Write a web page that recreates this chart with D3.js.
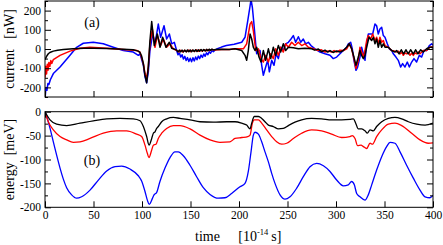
<!DOCTYPE html>
<html>
<head>
<meta charset="utf-8">
<script src="https://cdn.jsdelivr.net/npm/d3@7"></script>
<style>
  body { margin: 0; background: #fff; }
  svg { display: block; }
  text { font-family: "Liberation Serif", "Times New Roman", serif; }
</style>
</head>
<body>
<div id="chart"></div>
<script>
// time in 1e-14 s, current in nW, energy in meV
const xTicks = [0, 50, 100, 150, 200, 250, 300, 350, 400];
const curTicks = [-200, -100, 0, 100, 200];
const curMinor = [-250, -150, -50, 50, 150, 250];
const enTicks = [-200, -150, -100, -50, 0];
const enMinor = [-175, -125, -75, -25];

const currBlack = [
  [0, -55], [1, -45], [2, -35], [3.4, -25], [5, -18], [8.6, -11], [13, -6], [18.9, -3], [29, 1], [40, 4],
  [50, 4], [63.6, 2], [80.7, -1], [91, -4], [96.2, -11], [97.9, -18], [99.5, -35], [101.4, -76], [103, -135],
  [104.8, -176], [106.5, -93], [108.2, 44], [110, 143], [112.7, 18], [115.8, 78], [118.6, 9], [121.3, 61],
  [124.7, 9], [128.2, 35], [130.6, 4], [132.3, 1], [135.7, -6], [137.1, -15], [138.5, -6], [139.9, -15],
  [141.3, -6], [142.7, -15], [144.1, -6], [145.5, -15], [146.9, -5], [148.3, -14], [149.7, -5], [151.1, -14],
  [152.5, -5], [153.9, -13], [155.3, -4], [156.7, -13], [158.1, -4], [159.5, -12], [160.9, -3], [162.3, -11],
  [163.7, -3], [165.1, -10], [166.5, -2], [167.9, -9], [169.3, -1], [170.7, -7], [172.1, -1], [173.5, -5],
  [176, -3], [182, -1], [190, -2], [195.9, 1], [202.8, -8], [206.2, -33], [207.9, -59], [209.6, -8],
  [211.4, 78], [213.1, 52], [214.8, 9], [216.5, -8], [218.2, 9], [220.6, -42], [222.7, -68], [225.1, -8],
  [227.5, -59], [230.3, 1], [232.7, -50], [235.4, 9], [237.8, -33], [240.6, 18], [243, -16], [245.7, 27],
  [248.1, -8], [250.9, 9], [256, 6], [261.2, 1], [268, 4], [274.9, 1], [278, -6], [281.8, 0], [285, -14],
  [288.7, -6], [291.5, -16], [293.8, -8], [297, -18], [300.7, -10], [304, -16], [307.5, -8], [311, 9],
  [313.7, 27], [316.1, 1], [318.5, -42], [320.6, -85], [323, -42], [324.7, -8], [326.4, -33], [328.2, -50],
  [329.9, -33], [331.6, 9], [334, 61], [336.7, 44], [338.5, 61], [340.2, 27], [341.9, 52], [343.6, 9],
  [345.3, 44], [347.1, 9], [348.8, 27], [350.5, 9], [353.9, 9], [357.4, -8], [360.8, -16], [362.5, -8],
  [365, -25], [367.3, -4], [369.7, -25], [372.1, -4], [374.5, -25], [376.9, -4], [379.7, -25], [382.1, -4],
  [384.5, -25], [387.3, -4], [390, -16], [393.4, 1], [396.9, 9], [398.6, 9], [400, 5]
];

const currRed = [
  [0, -150], [0.8, -90], [1.6, -130], [2.4, -80], [3.2, -110], [4, -70], [5, -90], [6, -60], [7, -75],
  [8.6, -55], [15.5, -33], [25.8, -11], [36.1, 4], [46.4, 9], [63.6, 4], [80.7, -3], [94.5, -8], [97.9, -16],
  [101.4, -76], [103.1, -128], [104.8, -154], [106.5, -94], [108.2, 27], [110.7, 104], [113.4, 9],
  [115.8, 70], [119.2, 18], [122, 52], [125.4, 9], [128.9, 27], [132.3, 1], [136, -8], [138, -15], [140, -7],
  [142, -15], [144, -7], [146, -14], [148, -6], [150, -14], [152, -6], [154, -13], [156, -5], [158, -12],
  [160, -5], [162, -11], [164, -4], [166, -10], [168, -3], [170, -8], [172, -2], [175, -5], [182, -3],
  [190, -2], [195.9, 1], [204.5, 1], [207.9, 27], [211.4, 130], [213.1, 143], [214.8, 95], [217.2, -8],
  [220, 1], [222.7, -50], [225.1, -68], [227.5, -33], [230.3, -68], [232.7, -25], [235.4, -50], [237.8, 1],
  [240.6, -33], [243, 9], [245.7, -16], [248.1, 27], [250.9, 9], [254.3, 35], [257.7, 18], [261.2, 35],
  [264.6, 18], [268, 27], [271.5, 9], [276.6, 1], [281.8, -8], [285, -4], [288.7, -16], [292, -10],
  [295.5, -16], [298, -8], [300.7, -16], [304, -6], [307.5, -8], [311, 1], [313.7, 27], [316.1, 1],
  [318.5, -50], [320.6, -102], [323, -59], [324.7, 9], [326.4, -16], [328.2, -42], [329.9, -8], [331.6, 44],
  [333.3, 70], [335.7, 52], [337.8, 78], [340.2, 44], [341.9, 61], [343.6, 27], [345.3, 61], [347.1, 35],
  [348.8, 44], [350.5, 18], [353.9, 9], [357.4, -8], [360, -10], [362.5, -16], [364.5, -12], [366, -25],
  [368, -18], [369.4, -33], [371, -20], [372.8, -25], [374.5, -18], [376.3, -33], [378, -22], [379.7, -33],
  [381.5, -20], [383.1, -25], [385, -16], [386.6, -25], [390, -8], [393.4, -8], [396.9, 9], [400, 12]
];

const currBlue = [
  [0, -262], [1, -200], [2, -215], [3, -180], [4, -185], [5.5, -160], [8.6, -128], [15.5, -94], [25.8, -33],
  [32.6, 9], [39.5, 30], [49.8, 35], [60.1, 27], [70.4, 9], [80.7, -8], [91, -16], [96.2, -33], [97.9, -25],
  [101.4, -85], [103.1, -145], [104.8, -176], [106.5, -119], [108.2, -8], [111, 78], [113.4, 27], [116.8, 130],
  [119.2, 61], [122.7, 121], [125.4, 52], [128.2, 78], [130.6, 27], [133.3, 35], [135.7, -8], [137.1, -30],
  [138.5, -20], [139.9, -42], [141.3, -30], [142.7, -52], [144.1, -38], [145.5, -60], [146.9, -45],
  [148.3, -65], [149.7, -48], [151.1, -66], [152.5, -46], [153.9, -62], [155.3, -42], [156.7, -56],
  [158.1, -37], [159.5, -50], [160.9, -32], [162.3, -44], [163.7, -26], [165.1, -38], [166.5, -20],
  [167.9, -30], [169.3, -14], [170.7, -22], [172.1, -8], [173.5, -14], [177, 0], [182, 10], [187, 18],
  [195, 25], [202.8, 35], [206.2, 61], [209, 147], [211.4, 224], [212.4, 258], [213.8, 216], [215.1, 147],
  [217.2, 27], [218.2, -25], [220, -8], [221.7, -8], [223.4, -85], [225.1, -137], [227.5, -94], [229.6, -59],
  [231.3, -119], [233.7, -59], [236.1, -85], [238.2, -25], [240.6, -50], [243, 9], [245.7, -8], [248.1, 27],
  [250.9, 35], [253.6, 52], [256, 70], [258.4, 35], [261.2, 64], [263.6, 35], [266.3, 52], [268.7, 27],
  [271.5, 35], [274.2, 18], [278.4, 1], [283.5, -16], [288.7, -25], [293.8, -33], [297.2, -50], [300.7, -42],
  [304.1, -25], [307.5, -8], [311, 9], [312.7, 27], [315.1, 35], [316.8, 1], [318.5, -59], [320.6, -111],
  [322.3, -94], [324.7, -42], [326.4, 9], [328.2, -25], [329.9, -59], [331.6, 27], [333.3, 78], [335.7, 78],
  [337.8, 78], [340.2, 130], [341.9, 121], [343.6, 78], [345.3, 104], [347.1, 113], [348.8, 70], [350.5, 61],
  [352.9, 27], [355, 1], [357.4, -8], [359.1, -25], [361.8, -42], [364.2, -59], [366.6, -94], [368.7, -76],
  [371.1, -94], [373.5, -68], [375.6, -94], [378, -68], [380.4, -50], [383.1, -68], [385.9, -33],
  [388.3, -42], [390.7, -8], [393.4, -8], [396.2, 18], [398.6, 27], [400, 20]
];

const enBlack = [
  [0, 0], [5.2, -17], [12, -26], [22.3, -29], [36.1, -24], [49.8, -19], [63.6, -15], [77.3, -14], [91, -15],
  [98, -19], [101.4, -31], [104.8, -52], [107.2, -70], [110, -56], [111.7, -45], [113.4, -42], [115.1, -35],
  [116.8, -31], [120.3, -21], [125.4, -15], [132.3, -12], [139.2, -14], [149.5, -17], [159.8, -21],
  [173.5, -22], [187.3, -21], [195.9, -21], [202.8, -24], [207.9, -28], [211.4, -36], [213.1, -24],
  [215.8, -10], [220, -10], [223.4, -14], [226.8, -21], [230.3, -28], [235.4, -31], [240.6, -36],
  [245.7, -35], [250.9, -29], [257.7, -22], [264.6, -17], [274.9, -14], [285.2, -15], [295.5, -17],
  [305.8, -17], [314.4, -16], [317.9, -15], [320.3, -24], [323, -36], [326.5, -36], [329.9, -40],
  [332.3, -45], [335.1, -38], [338.5, -40], [341.9, -31], [347.1, -21], [354, -14], [360.8, -12],
  [367.7, -15], [374.6, -21], [383.2, -26], [391.8, -28], [400, -24]
];

const enRed = [
  [0, 0], [3.4, -21], [8.6, -38], [15.5, -52], [22.3, -59], [29.2, -64], [36.1, -63], [46.4, -56],
  [60.1, -45], [73.9, -40], [84.2, -40], [94.5, -47], [99.6, -52], [103.1, -70], [105.5, -87], [107.2, -96],
  [110, -80], [111.7, -70], [114.4, -68], [116.8, -56], [120.3, -45], [125.4, -35], [132.3, -29],
  [139.2, -29], [149.5, -36], [159.8, -49], [170.1, -59], [180.4, -64], [190.7, -63], [195.9, -56],
  [202.8, -54], [209, -52], [211.4, -49], [213.8, -24], [215.8, -17], [220, -17], [223.4, -24],
  [228.5, -38], [233.7, -52], [238.8, -63], [244, -68], [249.2, -66], [256, -56], [264.6, -45],
  [274.9, -38], [285.2, -40], [295.5, -47], [305.8, -54], [314.4, -52], [316.8, -50], [319.6, -56],
  [322.3, -71], [325.8, -70], [328.2, -73], [331.6, -77], [335.1, -66], [337.5, -68], [341.9, -52],
  [347.1, -38], [354, -26], [360.8, -24], [367.7, -29], [378, -45], [386.6, -59], [395.2, -66], [400, -65]
];

const enBlue = [
  [0, 0], [2.4, -14], [5.2, -35], [8.6, -63], [12, -91], [15.5, -118], [18.9, -141], [22.3, -159],
  [27.5, -174], [32.6, -181], [37.8, -178], [46.4, -164], [55, -143], [63.6, -124], [72.2, -115], [79, -114],
  [87.6, -120], [96.2, -134], [99.6, -145], [103.1, -167], [105.5, -185], [107.5, -194], [110, -185],
  [112.4, -174], [115.1, -169], [118.5, -146], [123.7, -118], [128.9, -96], [134, -84], [137.4, -84],
  [142.6, -92], [149.5, -112], [156.3, -136], [163.2, -159], [170.1, -173], [178.7, -181], [185.5, -180],
  [192.4, -171], [201, -157], [206.2, -150], [209.6, -125], [212.4, -84], [214.8, -49], [216.5, -43],
  [220, -47], [223.4, -63], [226.8, -84], [230.3, -105], [233.7, -129], [237.1, -150], [242.3, -174],
  [247.4, -183], [252.6, -178], [259.5, -160], [266.3, -136], [273.2, -115], [280.1, -108], [287, -113],
  [293.8, -125], [300.7, -143], [307.5, -155], [312.7, -153], [316.1, -146], [318.9, -153], [321.3, -171],
  [324.7, -178], [329.9, -185], [333.3, -174], [336.8, -153], [341.9, -122], [347.1, -94], [352.2, -73],
  [355.7, -64], [360.8, -66], [366, -84], [372.8, -112], [379.7, -139], [386.6, -164], [391.8, -178],
  [396.9, -180], [400, -175]
];

const W = 443, H = 245;
const left = 45, right = 433;

const svg = d3.select("#chart").append("svg")
  .attr("width", W)
  .attr("height", H);

const x = d3.scaleLinear().domain([0, 400]).range([left, right]);

function panel(cfg) {
  const y = d3.scaleLinear().domain(cfg.domain).range([cfg.bottom, cfg.top]);
  const g = svg.append("g");

  const clipId = "clip-" + cfg.id;
  svg.append("clipPath").attr("id", clipId)
    .append("rect")
    .attr("x", left).attr("y", cfg.top)
    .attr("width", right - left).attr("height", cfg.bottom - cfg.top);

  const line = d3.line()
    .x(d => x(d[0]))
    .y(d => y(d[1]))
    .curve(cfg.curve);

  const lines = g.append("g").attr("clip-path", `url(#${clipId})`);
  cfg.series.forEach(s => {
    lines.append("path")
      .datum(s.data)
      .attr("fill", "none")
      .attr("stroke", s.color)
      .attr("stroke-width", cfg.lw)
      .attr("stroke-linejoin", "round")
      .attr("d", line);
  });

  // ticks, pointing inward on all four sides
  const bottomAx = d3.axisBottom(x).tickValues(xTicks).tickSizeInner(-6).tickSizeOuter(0).tickPadding(4);
  if (!cfg.xLabels) bottomAx.tickFormat("");
  g.append("g").attr("class", "axis")
    .attr("transform", `translate(0,${cfg.bottom})`)
    .call(bottomAx);

  g.append("g").attr("class", "axis")
    .attr("transform", `translate(0,${cfg.top})`)
    .call(d3.axisTop(x).tickValues(xTicks).tickSizeInner(-6).tickSizeOuter(0).tickFormat(""));

  g.append("g").attr("class", "axis")
    .attr("transform", `translate(${left},0)`)
    .call(d3.axisLeft(y).tickValues(cfg.ticks).tickSizeInner(-6).tickSizeOuter(0).tickPadding(4)
      .tickFormat(d => String(d)));

  g.append("g").attr("class", "axis")
    .attr("transform", `translate(${left},0)`)
    .call(d3.axisLeft(y).tickValues(cfg.minor).tickSizeInner(-3).tickSizeOuter(0).tickFormat(""));

  g.append("g").attr("class", "axis")
    .attr("transform", `translate(${right},0)`)
    .call(d3.axisRight(y).tickValues(cfg.ticks).tickSizeInner(-6).tickSizeOuter(0).tickFormat(""));

  g.append("g").attr("class", "axis")
    .attr("transform", `translate(${right},0)`)
    .call(d3.axisRight(y).tickValues(cfg.minor).tickSizeInner(-3).tickSizeOuter(0).tickFormat(""));

  g.selectAll(".axis .domain").remove();
  g.selectAll(".axis line").attr("stroke", "#000");
  g.selectAll(".axis text")
    .attr("fill", "#000")
    .attr("font-size", "11.5px")
    .attr("font-family", "'Liberation Serif', serif");

  g.append("rect")
    .attr("x", left).attr("y", cfg.top)
    .attr("width", right - left).attr("height", cfg.bottom - cfg.top)
    .attr("fill", "none")
    .attr("stroke", "#000")
    .attr("stroke-width", 1);

  g.append("text")
    .attr("x", 92).attr("y", cfg.tagY)
    .attr("text-anchor", "middle")
    .attr("font-size", "14px")
    .text(cfg.tag);

  g.append("text")
    .attr("transform", `translate(14,${(cfg.top + cfg.bottom) / 2}) rotate(-90)`)
    .attr("text-anchor", "middle")
    .attr("font-size", "14px")
    .style("white-space", "pre")
    .text(cfg.title);
}

panel({
  id: "a", top: 1, bottom: 97, domain: [-250, 250],
  ticks: curTicks, minor: curMinor, xLabels: false,
  curve: d3.curveLinear, lw: 1.5,
  tag: "(a)", tagY: 27, title: "current   [nW]",
  series: [
    { data: currBlue, color: "#0000ff" },
    { data: currRed, color: "#ff0000" },
    { data: currBlack, color: "#000000" }
  ]
});

panel({
  id: "b", top: 111.7, bottom: 207.3, domain: [-200, 0],
  ticks: enTicks, minor: enMinor, xLabels: true,
  curve: d3.curveMonotoneX, lw: 1.3,
  tag: "(b)", tagY: 165, title: "energy  [meV]",
  series: [
    { data: enBlue, color: "#0000ff" },
    { data: enRed, color: "#ff0000" },
    { data: enBlack, color: "#000000" }
  ]
});

const xl = svg.append("text")
  .attr("y", 241)
  .attr("font-size", "14px");
xl.append("tspan").attr("x", 195).text("time");
xl.append("tspan").attr("x", 238.3).text("[10");
xl.append("tspan").attr("dy", -6).attr("font-size", "8.5px").text("-14");
xl.append("tspan").attr("dy", 6).attr("dx", 3).text("s]");
</script>
</body>
</html>
